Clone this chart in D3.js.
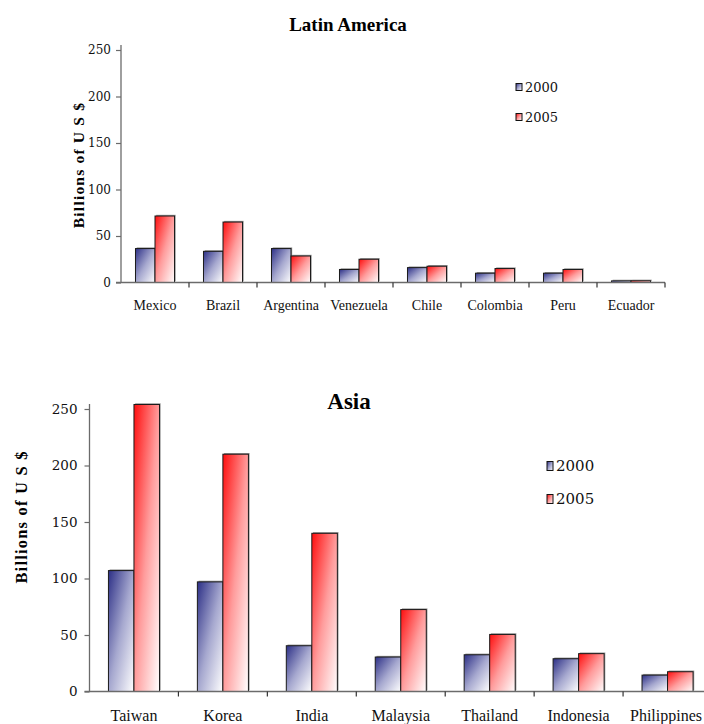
<!DOCTYPE html>
<html>
<head>
<meta charset="utf-8">
<script src="https://cdn.jsdelivr.net/npm/d3@7"></script>
<style>
  html, body { margin: 0; padding: 0; background: #fff; }
  svg { display: block; }
</style>
</head>
<body>
<svg id="chart" width="704" height="724"></svg>
<script>
// Foreign exchange reserves, billions of US $
const seriesNames = ["2000", "2005"];
const yTicks = [0, 50, 100, 150, 200, 250];

const latamCategories = ["Mexico", "Brazil", "Argentina", "Venezuela", "Chile", "Colombia", "Peru", "Ecuador"];
const latam2000 = [36.5, 33.5, 36.5, 14, 16, 10, 10, 1.7];
const latam2005 = [71.5, 65, 28.5, 25, 17.5, 15, 14, 1.8];

const asiaCategories = ["Taiwan", "Korea", "India", "Malaysia", "Thailand", "Indonesia", "Philippines"];
const asia2000 = [107, 97, 40.5, 30.5, 32.5, 29, 14.5];
const asia2005 = [254, 210, 140, 72.5, 50.5, 33.5, 17.5];

const svg = d3.select("#chart");
const defs = svg.append("defs");

function addGradient(id, stops) {
  const g = defs.append("linearGradient")
    .attr("id", id)
    .attr("x1", 0).attr("y1", 0).attr("x2", 1).attr("y2", 1);
  stops.forEach(([off, col]) => g.append("stop").attr("offset", off).attr("stop-color", col));
}
addGradient("grad2000", [[0, "#2c2f86"], [0.5, "#a6a8cf"], [1, "#ffffff"]]);
addGradient("grad2005", [[0, "#ff0d0d"], [0.5, "#ff9c9c"], [1, "#ffffff"]]);
const fills = { "2000": "url(#grad2000)", "2005": "url(#grad2005)" };

function drawChart(opt) {
  const g = svg.append("g");
  const { left, right, top, bottom, axisTop } = opt;

  const x0 = d3.scaleBand().domain(opt.categories).range([left, right]).padding(0);
  const groupFrac = 0.574;
  const bw = x0.bandwidth();
  const x1 = d3.scaleBand().domain(seriesNames)
    .range([bw * (1 - groupFrac) / 2, bw * (1 + groupFrac) / 2]).padding(0);
  const y = d3.scaleLinear().domain([0, 250]).range([bottom, top]);

  const rows = opt.categories.map((c, i) => ({
    cat: c,
    vals: [{ s: "2000", v: opt.v2000[i] }, { s: "2005", v: opt.v2005[i] }]
  }));

  // bars with a small up-right shadow
  const grp = g.selectAll("g.cat").data(rows).join("g")
    .attr("class", "cat")
    .attr("transform", d => `translate(${x0(d.cat)},0)`);
  grp.selectAll("rect.shadow").data(d => d.vals).join("rect")
    .attr("class", "shadow")
    .attr("x", d => x1(d.s) + 1.2)
    .attr("y", d => y(d.v) - 1.2)
    .attr("width", x1.bandwidth())
    .attr("height", d => bottom - y(d.v))
    .attr("fill", "#9a9a9a");
  grp.selectAll("rect.bar").data(d => d.vals).join("rect")
    .attr("class", "bar")
    .attr("x", d => x1(d.s))
    .attr("y", d => y(d.v))
    .attr("width", x1.bandwidth())
    .attr("height", d => bottom - y(d.v))
    .attr("fill", d => fills[d.s])
    .attr("stroke", "#1a1a1a")
    .attr("stroke-width", 1);

  // y axis
  const yAxis = g.append("g")
    .attr("transform", `translate(${left},0)`)
    .call(d3.axisLeft(y).tickValues(yTicks).tickSize(5).tickPadding(opt.yPad).tickFormat(d3.format("d")));
  yAxis.select(".domain").remove();
  yAxis.append("line").attr("x1", 0).attr("x2", 0).attr("y1", axisTop).attr("y2", bottom)
    .attr("stroke", "#6b6b6b").attr("stroke-width", 1.3);
  yAxis.selectAll(".tick line").attr("stroke", "#6b6b6b").attr("stroke-width", 1.2);
  yAxis.selectAll(".tick text")
    .attr("fill", "#111")
    .style("font-family", "'DejaVu Serif', serif")
    .style("font-size", opt.tickFont + "px");

  // x axis with ticks at band boundaries
  const xAxis = g.append("g").attr("transform", `translate(0,${bottom})`);
  xAxis.append("line").attr("x1", left - 5).attr("x2", right).attr("y1", 0).attr("y2", 0)
    .attr("stroke", "#6b6b6b").attr("stroke-width", 1.3);
  const bounds = opt.categories.map(c => x0(c)).concat([right]);
  xAxis.selectAll("line.tk").data(bounds.slice(1)).join("line")
    .attr("class", "tk")
    .attr("x1", d => d).attr("x2", d => d).attr("y1", 0).attr("y2", 5)
    .attr("stroke", "#333").attr("stroke-width", 1.2);
  xAxis.selectAll("text").data(opt.categories).join("text")
    .attr("x", d => Math.min(x0(d) + bw / 2, opt.labelMaxX))
    .attr("y", opt.catDy)
    .attr("text-anchor", "middle")
    .attr("fill", "#111")
    .style("font-family", "'Liberation Serif', 'Times New Roman', serif")
    .style("font-size", opt.catFont + "px")
    .style("letter-spacing", opt.catSpacing + "px")
    .text(d => d);

  // title
  g.append("text")
    .attr("x", opt.titleX).attr("y", opt.titleY)
    .attr("text-anchor", "middle")
    .style("font-family", "'Liberation Serif', 'Times New Roman', serif")
    .style("font-weight", "bold")
    .style("font-size", opt.titleFont + "px")
    .text(opt.title);

  // y axis label
  g.append("text")
    .attr("transform", `translate(${opt.ylabX},${opt.ylabY}) rotate(-90)`)
    .attr("text-anchor", "middle")
    .style("font-family", "'Liberation Serif', 'Times New Roman', serif")
    .style("font-weight", "bold")
    .style("font-size", opt.ylabFont + "px")
    .style("letter-spacing", opt.ylabSpacing + "px")
    .text("Billions of U S $");

  // legend
  const lg = g.append("g");
  seriesNames.forEach((s, i) => {
    const ly = opt.legY + i * opt.legStep;
    lg.append("rect")
      .attr("x", opt.legX).attr("y", ly - opt.boxH / 2)
      .attr("width", opt.boxW).attr("height", opt.boxH)
      .attr("fill", fills[s]).attr("stroke", "#111").attr("stroke-width", 1);
    lg.append("text")
      .attr("x", opt.legX + opt.boxW + 3).attr("y", ly)
      .attr("dy", "0.36em")
      .style("font-family", "'DejaVu Serif', serif")
      .style("font-size", opt.legFont + "px")
      .attr("fill", "#111")
      .text(s);
  });
}

drawChart({
  title: "Latin America", categories: latamCategories, v2000: latam2000, v2005: latam2005,
  left: 121, right: 665, top: 50, bottom: 282.5, axisTop: 45,
  yPad: 5, tickFont: 12, catFont: 14, catSpacing: 0, catDy: 27.5, labelMaxX: 700,
  titleX: 348, titleY: 31, titleFont: 19,
  ylabX: 84, ylabY: 165, ylabFont: 15.5, ylabSpacing: 1.2,
  legX: 516, legY: 87, legStep: 30, boxW: 6, boxH: 7, legFont: 13
});

drawChart({
  title: "Asia", categories: asiaCategories, v2000: asia2000, v2005: asia2005,
  left: 89.5, right: 712, top: 409, bottom: 691.5, axisTop: 404,
  yPad: 7, tickFont: 13.5, catFont: 16, catSpacing: 0, catDy: 29.5, labelMaxX: 666,
  titleX: 349, titleY: 409, titleFont: 23,
  ylabX: 27, ylabY: 517, ylabFont: 16.5, ylabSpacing: 1.2,
  legX: 547, legY: 466, legStep: 33, boxW: 6, boxH: 9, legFont: 15
});
</script>
</body>
</html>
